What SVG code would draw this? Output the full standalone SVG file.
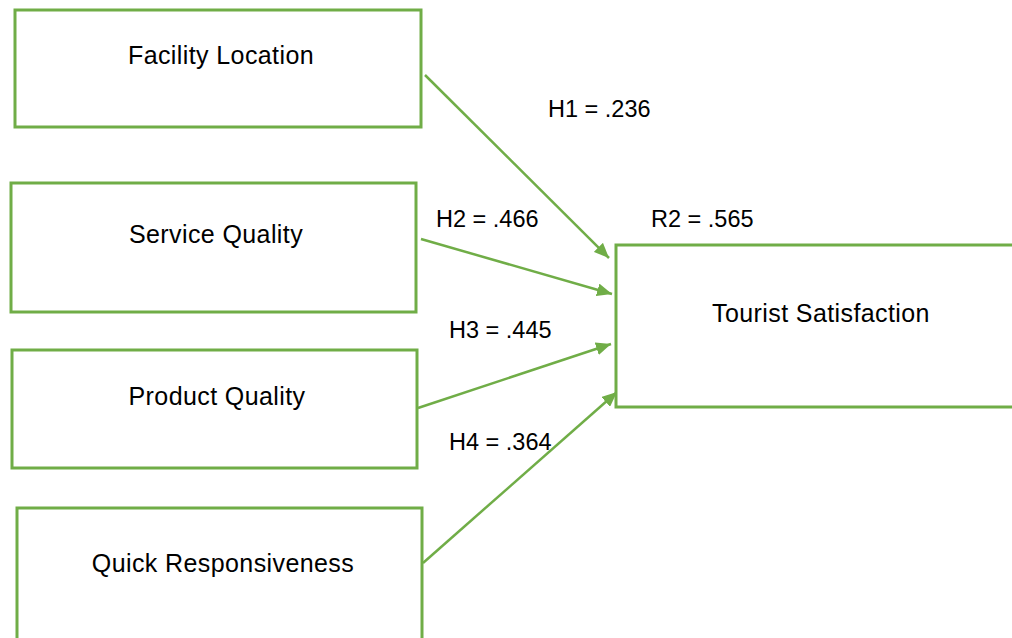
<svg xmlns="http://www.w3.org/2000/svg" width="1012" height="638" viewBox="0 0 1012 638">
<style>
.box{fill:#ffffff;stroke:#70AD47;stroke-width:3}
.lbl{font-family:"Liberation Sans",Arial,sans-serif;font-size:25px;fill:#000000;text-anchor:middle;letter-spacing:0.4px}
.val{font-family:"Liberation Sans",Arial,sans-serif;font-size:23.5px;fill:#000000}
.con{stroke:#70AD47;stroke-width:2.5;fill:none;marker-end:url(#ah)}
</style>
<defs>
<marker id="ah" markerUnits="userSpaceOnUse" markerWidth="15" markerHeight="13" refX="15" refY="6.5" orient="auto">
<path d="M0,0 L15,6.5 L0,13 z" fill="#70AD47"/>
</marker>
</defs>
<rect width="1012" height="638" fill="#ffffff"/>
<g id="connectors">
<line class="con" x1="425" y1="75" x2="609" y2="258"/>
<line class="con" x1="421" y1="239" x2="612" y2="294"/>
<line class="con" x1="418" y1="408" x2="611" y2="344"/>
<line class="con" x1="423" y1="563" x2="617" y2="392"/>
</g>
<g id="facility-location">
<rect class="box" x="15" y="10" width="406" height="117"/>
<text class="lbl" x="221" y="64">Facility Location</text>
</g>
<g id="service-quality">
<rect class="box" x="11" y="183" width="405" height="129"/>
<text class="lbl" x="216" y="243">Service Quality</text>
</g>
<g id="product-quality">
<rect class="box" x="12" y="350" width="405" height="118"/>
<text class="lbl" x="217" y="405">Product Quality</text>
</g>
<g id="quick-responsiveness">
<rect class="box" x="17" y="508" width="405" height="150"/>
<text class="lbl" x="223" y="572">Quick Responsiveness</text>
</g>
<g id="tourist-satisfaction">
<rect class="box" x="616" y="245" width="420" height="162"/>
<text class="lbl" x="821" y="322">Tourist Satisfaction</text>
</g>
<g id="labels">
<text class="val" x="548" y="117">H1 = .236</text>
<text class="val" x="436" y="227">H2 = .466</text>
<text class="val" x="449" y="338">H3 = .445</text>
<text class="val" x="449" y="450">H4 = .364</text>
<text class="val" x="651" y="227">R2 = .565</text>
</g>
</svg>
